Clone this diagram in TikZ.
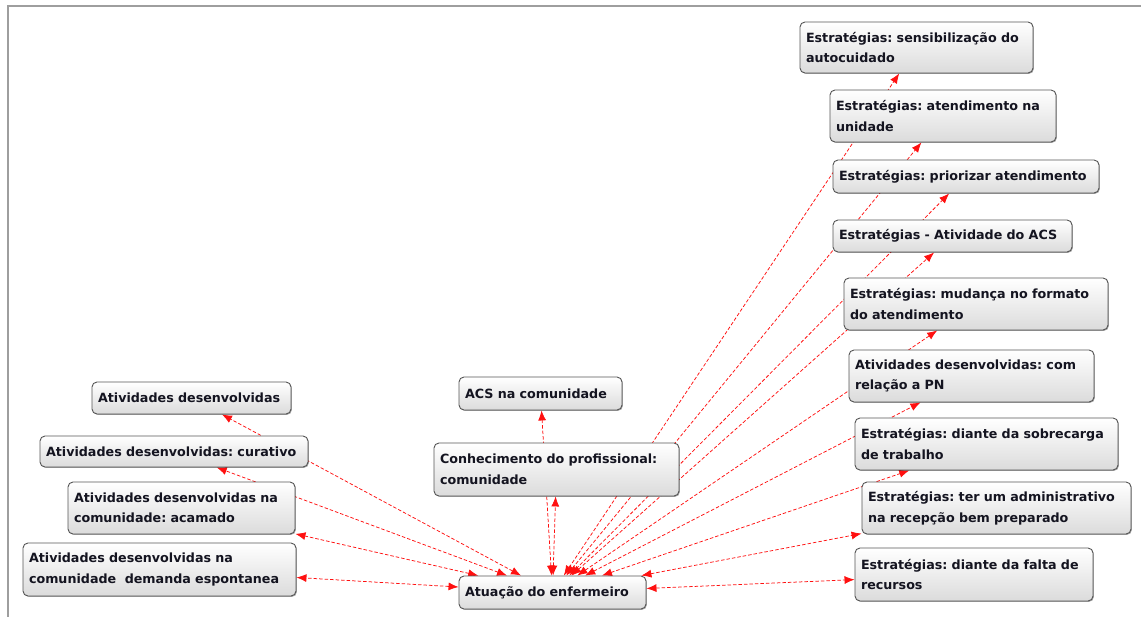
\documentclass[tikz,border=0pt]{standalone}
\usepackage{fontspec}
\setmainfont{DejaVu Sans}
\usetikzlibrary{arrows.meta,backgrounds,shadows}
\definecolor{boxline}{HTML}{555555}
\definecolor{linkred}{HTML}{FF1010}
\definecolor{txt}{HTML}{141420}
\tikzset{
  box/.style={draw=boxline, line width=0.9pt, rounded corners=5pt,
    top color=white, bottom color=black!14, text=txt,
    font=\frenchspacing\bfseries\fontsize{12.7}{20.5}\selectfont, align=left,
    inner xsep=6pt, inner ysep=2pt,
    drop shadow={shadow xshift=0.9pt, shadow yshift=-0.9pt, opacity=0.35, fill=black}},
  link/.style={linkred, dash pattern=on 3.5pt off 2pt, line width=0.75pt,
    {Latex[length=10pt,width=8pt]}-{Latex[length=10pt,width=8pt]}},
  frameline/.style={draw=black!38, line width=2pt}
}
\newcommand\mybox[6]{%
  \pgfmathsetmacro\bw{#4-#2}\pgfmathsetmacro\bh{#5-#3}%
  \pgfmathsetmacro\bcx{(#2+#4)/2}\pgfmathsetmacro\bcy{(#3+#5)/2}%
  \pgfmathsetmacro\btw{#4-#2-12}%
  \node[box, minimum width=\bw pt, minimum height=\bh pt, text width=\btw pt] (#1) at (\bcx pt,-\bcy pt) {#6};}
\begin{document}
\begin{tikzpicture}
\useasboundingbox (0,0) rectangle (1141pt,-617pt);
\draw[frameline] (8pt,-617pt) -- (8pt,-6pt) -- (1141pt,-6pt);
\mybox{a1}{92}{382}{291}{414}{Atividades desenvolvidas}
\mybox{a2}{40}{436}{308}{467}{Atividades desenvolvidas: curativo}
\mybox{a3}{68}{482}{295}{534}{Atividades desenvolvidas na\\comunidade: acamado}
\mybox{a4}{23}{543}{296}{596}{Atividades desenvolvidas na\\comunidade~ demanda espontanea}
\mybox{acs}{459}{377}{622}{410}{ACS na comunidade}
\mybox{con}{434}{443}{679}{496}{Conhecimento do profissional:\\comunidade}
\mybox{atu}{459}{576}{646}{609}{Atuação do enfermeiro}
\mybox{s1}{800}{22}{1033}{73}{Estratégias: sensibilização do\\autocuidado}
\mybox{s2}{830}{90}{1056}{142}{Estratégias: atendimento na\\unidade}
\mybox{s3}{833}{160}{1099}{193}{Estratégias: priorizar atendimento}
\mybox{s4}{833}{220}{1072}{252}{Estratégias - Atividade do ACS}
\mybox{s5}{844}{278}{1108}{330}{Estratégias: mudança no formato\\do atendimento}
\mybox{s6}{849}{350}{1094}{402}{Atividades desenvolvidas: com\\relação a PN}
\mybox{s7}{855}{418}{1118}{470}{Estratégias: diante da sobrecarga\\de trabalho}
\mybox{s8}{862}{482}{1131}{534}{Estratégias: ter um administrativo\\na recepção bem preparado}
\mybox{s9}{855}{548}{1093}{601}{Estratégias: diante da falta de\\recursos}
\begin{scope}[on background layer]
  \foreach \t in {a1,a2,a3,a4,acs,con,s1,s2,s3,s4,s5,s6,s7,s8,s9}
    \draw[link] (atu) -- (\t);
\end{scope}
\end{tikzpicture}
\end{document}
